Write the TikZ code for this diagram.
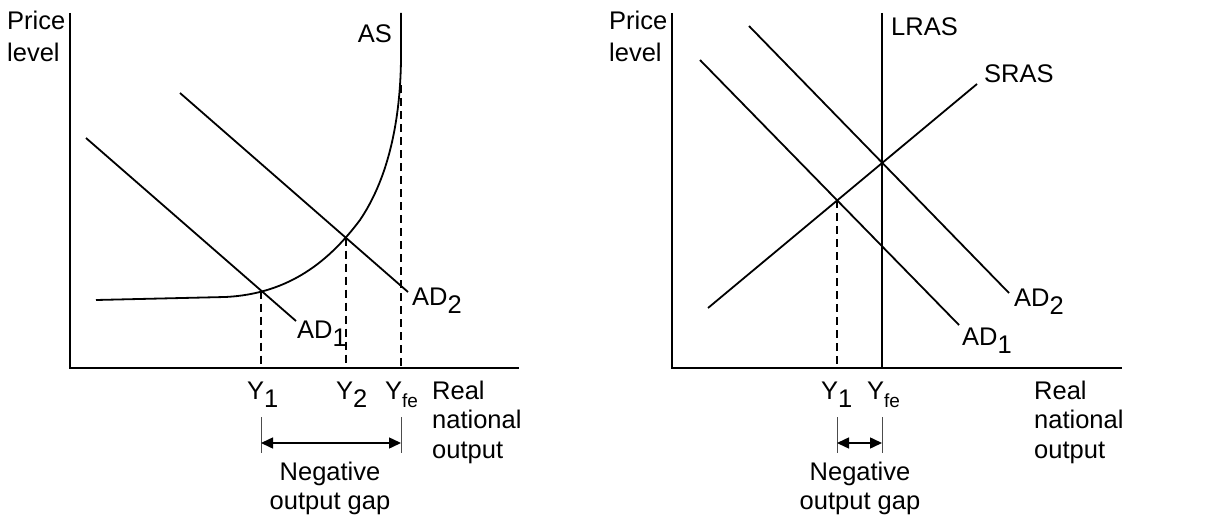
\documentclass[tikz,border=0pt]{standalone}
\usepackage{fontspec}
\setmainfont{Liberation Sans}
\usetikzlibrary{arrows.meta}
\newcommand\mysub[1]{\raisebox{-8pt}{#1}}
\newcommand\myfe{\raisebox{-8pt}{\fontsize{19}{19}\selectfont fe}}
\tikzset{
  lbl/.style={inner sep=0pt, anchor=base west, font=\fontsize{25.5}{29}\selectfont},
  clbl/.style={inner sep=0pt, anchor=base, font=\fontsize{25.5}{29}\selectfont},
  axis/.style={line width=2pt},
  curve/.style={line width=1.8pt},
  guide/.style={line width=1.2pt, dash pattern=on 8pt off 5pt},
  tick/.style={line width=1pt, draw=black!70},
  gap/.style={line width=1.5pt, {Triangle[length=12pt,width=11pt]}-{Triangle[length=12pt,width=11pt]}}
}
\begin{document}
\begin{tikzpicture}[x=1pt,y=-1pt]
\useasboundingbox (0,0) rectangle (1208,519);

% ---------------- Left chart ----------------
\coordinate (Lo) at (70,368);
\coordinate (Ltop) at (70,13);
\coordinate (Lxend) at (519,368);
\draw[axis] (Ltop) -- (Lo) -- (Lxend);

% AS curve
\coordinate (ASs) at (96,300);
\coordinate (ASa) at (225,297);
\coordinate (ASb) at (360,220);
\coordinate (ASc) at (401,60);
\coordinate (ASe) at (401,13);
\draw[curve] (ASs) -- (ASa) .. controls (290,294) and (330,260) .. (ASb)
  .. controls (385,183) and (400,130) .. (ASc) -- (ASe);

% AD lines
\coordinate (LAD1s) at (86,138);
\coordinate (LAD1e) at (296,321);
\coordinate (LAD2s) at (180,93);
\coordinate (LAD2e) at (408,292);
\draw[curve] (LAD1s) -- (LAD1e);
\draw[curve] (LAD2s) -- (LAD2e);

% intersections and guides
\coordinate (LE1) at (261,290.5);
\coordinate (LE1b) at (261,368);
\coordinate (LE2) at (346,237.6);
\coordinate (LE2b) at (346,368);
\coordinate (LFE) at (401,85);
\coordinate (LFEb) at (401,368);
\draw[guide] (LE1) -- (LE1b);
\draw[guide] (LE2) -- (LE2b);
\draw[guide] (LFE) -- (LFEb);

% gap arrow
\coordinate (Lt1a) at (261,417);
\coordinate (Lt1b) at (261,453);
\coordinate (Lt2a) at (401,417);
\coordinate (Lt2b) at (401,453);
\coordinate (Lg1) at (261,443);
\coordinate (Lg2) at (401,443);
\draw[tick] (Lt1a) -- (Lt1b);
\draw[tick] (Lt2a) -- (Lt2b);
\draw[gap] (Lg1) -- (Lg2);

% labels
\node[lbl] (Lp1) at (7,30) {Price};
\node[lbl] (Lp2) at (7,62) {level};
\node[lbl, anchor=base east] (LAS) at (392,43) {AS};
\node[lbl] (LAD2) at (412,305) {AD\mysub{2}};
\node[lbl] (LAD1) at (297,338) {AD\mysub{1}};
\node[lbl] (LY1) at (247,399) {Y\mysub{1}};
\node[lbl] (LY2) at (336,399) {Y\mysub{2}};
\node[lbl] (LYfe) at (385,399) {Y\myfe};
\node[lbl] (LR1) at (432,399) {Real};
\node[lbl] (LR2) at (432,428.5) {national};
\node[lbl] (LR3) at (432,458) {output};
\node[clbl] (LN1) at (330,480) {Negative};
\node[clbl] (LN2) at (330,509) {output gap};

% ---------------- Right chart ----------------
\coordinate (Ro) at (672,368);
\coordinate (Rtop) at (672,13);
\coordinate (Rxend) at (1122,368);
\draw[axis] (Rtop) -- (Ro) -- (Rxend);

\coordinate (LRt) at (882,13);
\coordinate (LRb) at (882,368);
\draw[curve] (LRt) -- (LRb);

\coordinate (SRs) at (708,308);
\coordinate (SRe) at (977,84);
\draw[curve] (SRs) -- (SRe);

\coordinate (RAD1s) at (700,60);
\coordinate (RAD1e) at (959,325);
\coordinate (RAD2s) at (749,26);
\coordinate (RAD2e) at (1009,293);
\draw[curve] (RAD1s) -- (RAD1e);
\draw[curve] (RAD2s) -- (RAD2e);

\coordinate (RE1) at (837,200);
\coordinate (RE1b) at (837,368);
\draw[guide] (RE1) -- (RE1b);

\coordinate (Rt1a) at (837,417);
\coordinate (Rt1b) at (837,453);
\coordinate (Rt2a) at (882,417);
\coordinate (Rt2b) at (882,453);
\coordinate (Rg1) at (837,443);
\coordinate (Rg2) at (882,443);
\draw[tick] (Rt1a) -- (Rt1b);
\draw[tick] (Rt2a) -- (Rt2b);
\draw[gap] (Rg1) -- (Rg2);

\node[lbl] (Rp1) at (609,30) {Price};
\node[lbl] (Rp2) at (609,62) {level};
\node[lbl] (RLRAS) at (891,36) {LRAS};
\node[lbl] (RSRAS) at (984,82) {SRAS};
\node[lbl] (RAD2) at (1014,306) {AD\mysub{2}};
\node[lbl] (RAD1) at (962,345) {AD\mysub{1}};
\node[lbl] (RY1) at (821,399) {Y\mysub{1}};
\node[lbl] (RYfe) at (867,399) {Y\myfe};
\node[lbl] (RR1) at (1034,399) {Real};
\node[lbl] (RR2) at (1034,428.5) {national};
\node[lbl] (RR3) at (1034,458) {output};
\node[clbl] (RN1) at (860,480) {Negative};
\node[clbl] (RN2) at (860,509) {output gap};
\end{tikzpicture}
\end{document}
